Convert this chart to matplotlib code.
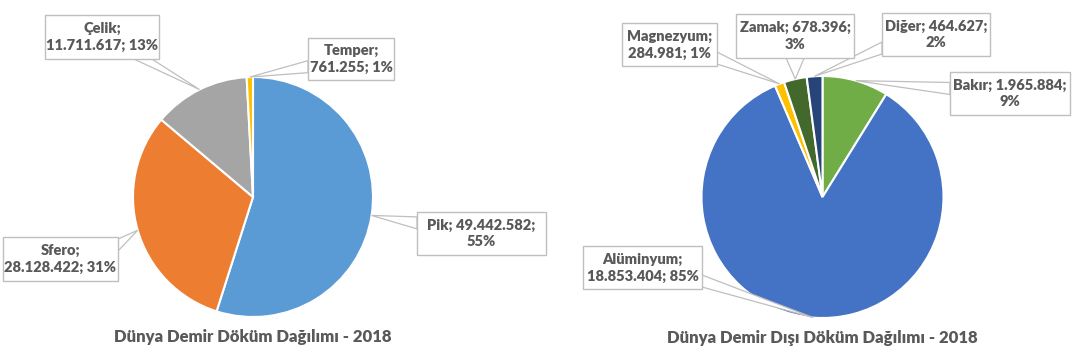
import numpy as np
import matplotlib
matplotlib.use('Agg')
import matplotlib.pyplot as plt
from matplotlib.patches import Rectangle, Polygon

# data
demir_names = ['Pik', 'Sfero', 'Çelik', 'Temper']
demir_values = [49442582, 28128422, 11711617, 761255]
demir_colors = ['#5B9BD5', '#ED7D31', '#A5A5A5', '#FFC000']

dd_names = ['Bakır', 'Alüminyum', 'Magnezyum', 'Zamak', 'Diğer']
dd_values = [1965884, 18853404, 284981, 678396, 464627]
dd_colors = ['#70AD47', '#4472C4', '#FFC000', '#43682B', '#264478']

titles = ['Dünya Demir Döküm Dağılımı - 2018', 'Dünya Demir Dışı Döküm Dağılımı - 2018']

# layout (pixels, y from top)
W, H = 1085, 358
TXT = '#595959'
EDGE = '#BFBFBF'

# label boxes (x0, y0, x1, y1) and line-break mode (1: "name;\nval; pct", 2: "name; val;\npct")
demir_boxes = [(417, 212, 546, 255), (3, 237, 118, 281), (45, 15, 159, 59), (308, 38, 394, 80)]
demir_modes = [2, 1, 1, 1]
dd_boxes = [(950, 72, 1070, 115), (583, 246, 702, 289), (622, 23, 717, 66),
            (736, 14, 854, 58), (882, 13, 990, 56)]
dd_modes = [2, 1, 1, 2, 2]

plt.rcParams['font.family'] = ['Lato', 'DejaVu Sans']

fig = plt.figure(figsize=(W / 100, H / 100), dpi=100)
ax = fig.add_axes([0, 0, 1, 1])


def fmt(v):
    return f'{v:,}'.replace(',', '.')


def pointer(box, target):
    x0, y0, x1, y1 = box
    cx, cy = (x0 + x1) / 2, (y0 + y1) / 2
    dx, dy = target[0] - cx, target[1] - cy
    tx = ((x1 if dx > 0 else x0) - cx) / dx if dx != 0 else np.inf
    ty = ((y1 if dy > 0 else y0) - cy) / dy if dy != 0 else np.inf
    if tx < ty:
        xe = x1 if dx > 0 else x0
        y = np.clip(cy + tx * dy, y0 + 8, y1 - 8)
        base = [(xe, y - 6), (xe, y + 6)]
    else:
        ye = y1 if dy > 0 else y0
        x = np.clip(cx + ty * dx, x0 + 10, x1 - 10)
        base = [(x - 9, ye), (x + 9, ye)]
    return [base[0], target, base[1]]


def draw_pie(names, values, colors, boxes, modes, center, r, title, title_y):
    wedges, _ = ax.pie(values, colors=colors, startangle=-90, counterclock=True,
                       center=center, radius=r,
                       wedgeprops=dict(edgecolor='white', linewidth=1.5))
    total = sum(values)
    for w, name, v, box, mode in zip(wedges, names, values, boxes, modes):
        ang = np.deg2rad((w.theta1 + w.theta2) / 2)
        target = (center[0] + r * np.cos(ang), center[1] + r * np.sin(ang))
        pct = round(100 * v / total)
        if mode == 1:
            label = f'{name};\n{fmt(v)}; {pct}%'
        else:
            label = f'{name}; {fmt(v)};\n{pct}%'
        ax.add_patch(Polygon(pointer(box, target), closed=True, facecolor='white',
                             edgecolor=EDGE, linewidth=0.9, zorder=3))
        x0, y0, x1, y1 = box
        ax.add_patch(Rectangle((x0, y0), x1 - x0, y1 - y0, facecolor='white',
                               edgecolor=EDGE, linewidth=1, zorder=4))
        ax.text((x0 + x1) / 2, (y0 + y1) / 2, label, ha='center', va='center',
                fontsize=10.5, fontweight='heavy', color=TXT, linespacing=1.35, zorder=5)
    ax.text(center[0], title_y, title, ha='center', va='center',
            fontsize=12, fontweight='heavy', color=TXT)


draw_pie(demir_names, demir_values, demir_colors, demir_boxes, demir_modes,
         (253, 197), 120, titles[0], 337)
draw_pie(dd_names, dd_values, dd_colors, dd_boxes, dd_modes,
         (822.5, 197), 121, titles[1], 338)

ax.set_xlim(0, W)
ax.set_ylim(H, 0)
ax.set_aspect('auto')
ax.axis('off')

fig.savefig('out.png', dpi=100, facecolor='white')
